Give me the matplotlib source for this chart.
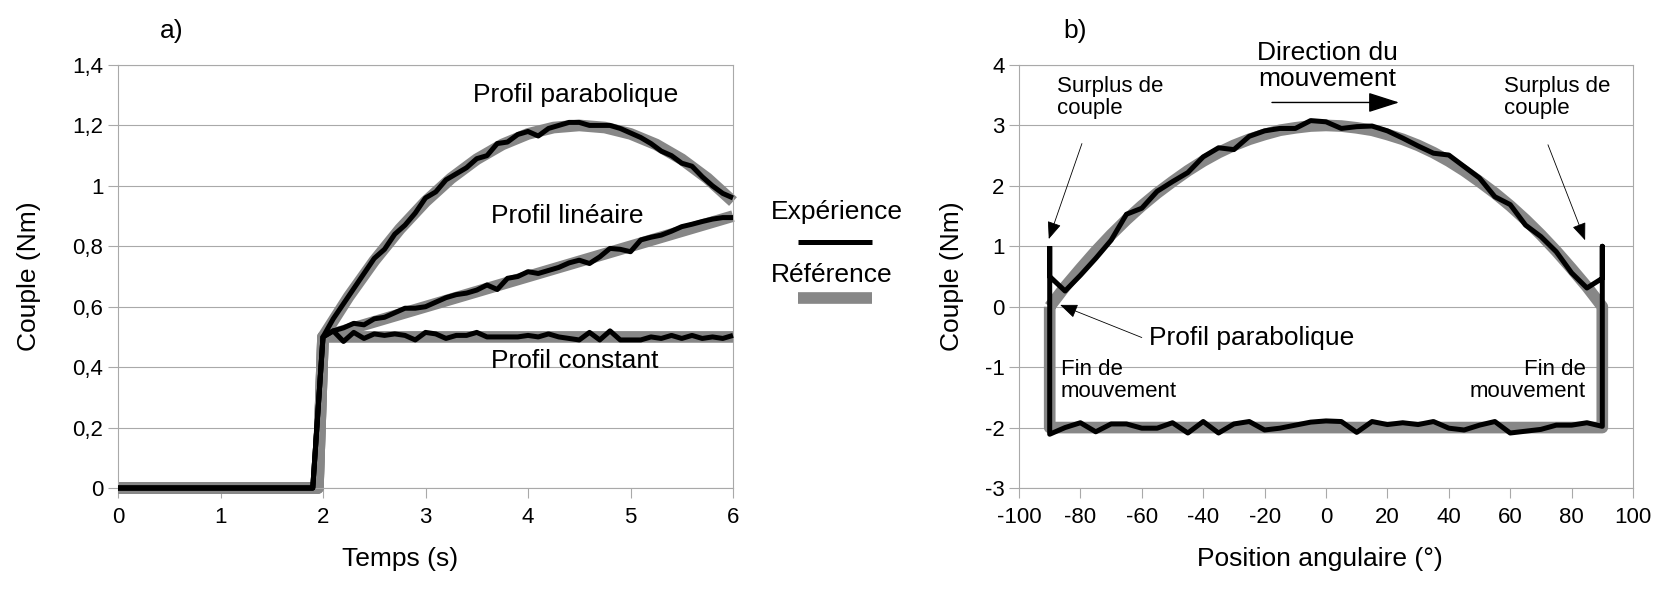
import matplotlib
matplotlib.use("Agg")
import matplotlib.pyplot as plt
from matplotlib.lines import Line2D
from matplotlib.ticker import FuncFormatter

plt.rcParams['font.family'] = ['Liberation Sans', 'DejaVu Sans']
plt.rcParams['axes.unicode_minus'] = False

# ---------------- Data: panel a) ----------------
t_ref_start = [0.0, 1.95]
t_ref = [2.0, 2.25, 2.5, 2.75, 3.0, 3.25, 3.5, 3.75, 4.0, 4.25, 4.5,
         4.75, 5.0, 5.25, 5.5, 5.75, 6.0]
ref_parabolique = [0.50, 0.633, 0.752, 0.857, 0.948, 1.025, 1.088, 1.137, 1.172, 1.193, 1.20,
                   1.193, 1.172, 1.137, 1.088, 1.025, 0.948]
ref_lineaire = [0.50, 0.525, 0.55, 0.575, 0.60, 0.625, 0.65, 0.675, 0.70, 0.725, 0.75,
                0.775, 0.80, 0.825, 0.85, 0.875, 0.90]
ref_constant = [0.50] * 17

t_exp_start = [0.0, 1.9]
t_exp = [2.0, 2.1, 2.2, 2.3, 2.4, 2.5, 2.6, 2.7, 2.8, 2.9, 3.0, 3.1, 3.2, 3.3, 3.4, 3.5,
         3.6, 3.7, 3.8, 3.9, 4.0, 4.1, 4.2, 4.3, 4.4, 4.5, 4.6, 4.7, 4.8, 4.9, 5.0, 5.1,
         5.2, 5.3, 5.4, 5.5, 5.6, 5.7, 5.8, 5.9, 6.0]
exp_parabolique = [0.50, 0.56, 0.61, 0.66, 0.71, 0.76, 0.79, 0.84, 0.87, 0.91, 0.96, 0.98,
                   1.02, 1.04, 1.06, 1.09, 1.10, 1.14, 1.145, 1.17, 1.18, 1.165, 1.19, 1.20,
                   1.21, 1.21, 1.20, 1.20, 1.20, 1.19, 1.175, 1.16, 1.14, 1.115, 1.10, 1.075,
                   1.065, 1.03, 1.00, 0.975, 0.96]
exp_lineaire = [0.50, 0.52, 0.53, 0.545, 0.54, 0.56, 0.565, 0.58, 0.595, 0.595, 0.60, 0.615,
                0.63, 0.64, 0.645, 0.655, 0.672, 0.657, 0.694, 0.70, 0.716, 0.71, 0.72, 0.73,
                0.745, 0.754, 0.743, 0.765, 0.793, 0.79, 0.782, 0.821, 0.83, 0.837, 0.85, 0.865,
                0.873, 0.882, 0.89, 0.895, 0.895]
exp_constant = [0.50, 0.52, 0.485, 0.515, 0.495, 0.51, 0.505, 0.51, 0.505, 0.49, 0.515, 0.51,
                0.495, 0.505, 0.505, 0.515, 0.50, 0.50, 0.50, 0.50, 0.505, 0.50, 0.51, 0.50,
                0.495, 0.49, 0.515, 0.49, 0.52, 0.49, 0.49, 0.49, 0.50, 0.495, 0.505, 0.495,
                0.505, 0.495, 0.50, 0.495, 0.505]

a_xticks = [0, 1, 2, 3, 4, 5, 6]
a_yticks = [0, 0.2, 0.4, 0.6, 0.8, 1.0, 1.2, 1.4]

# ---------------- Data: panel b) ----------------
ang_ref = [-90, -85, -80, -75, -70, -65, -60, -55, -50, -45, -40, -35, -30, -25, -20, -15,
           -10, -5, 0, 5, 10, 15, 20, 25, 30, 35, 40, 45, 50, 55, 60, 65, 70, 75, 80, 85, 90]
ref_aller = [0.0, 0.33, 0.63, 0.92, 1.19, 1.44, 1.67, 1.88, 2.07, 2.25, 2.41, 2.55, 2.67,
             2.77, 2.85, 2.92, 2.96, 2.99, 3.0, 2.99, 2.96, 2.92, 2.85, 2.77, 2.67, 2.55,
             2.41, 2.25, 2.07, 1.88, 1.67, 1.44, 1.19, 0.92, 0.63, 0.33, 0.0]
ang_ref_retour = [90, 90, -90, -90]
ref_retour = [0.0, -2.0, -2.0, 0.0]

ang_exp_aller = [-90, -90, -85, -80, -75, -70, -65, -60, -55, -50, -45, -40, -35, -30, -25,
                 -20, -15, -10, -5, 0, 5, 10, 15, 20, 25, 30, 35, 40, 45, 50, 55, 60, 65, 70,
                 75, 80, 85, 90, 90]
exp_aller = [1.0, 0.5, 0.26, 0.52, 0.80, 1.10, 1.53, 1.63, 1.91, 2.07, 2.22, 2.48, 2.63,
             2.60, 2.82, 2.91, 2.95, 2.95, 3.08, 3.06, 2.95, 2.98, 2.99, 2.91, 2.79, 2.66,
             2.54, 2.51, 2.32, 2.13, 1.82, 1.69, 1.35, 1.16, 0.91, 0.56, 0.31, 0.47, 1.0]
ang_exp_retour = [-90, -85, -80, -75, -70, -65, -60, -55, -50, -45, -40, -35, -30, -25, -20,
                  -15, -10, -5, 0, 5, 10, 15, 20, 25, 30, 35, 40, 45, 50, 55, 60, 65, 70, 75,
                  80, 85, 90]
exp_retour = [-2.11, -2.0, -1.92, -2.07, -1.94, -1.94, -2.01, -2.01, -1.92, -2.09, -1.90,
              -2.09, -1.94, -1.90, -2.04, -2.01, -1.96, -1.91, -1.89, -1.90, -2.08, -1.90,
              -1.95, -1.92, -1.95, -1.90, -2.01, -2.04, -1.96, -1.90, -2.09, -2.06, -2.03,
              -1.96, -1.96, -1.92, -1.98]

b_xticks = [-100, -80, -60, -40, -20, 0, 20, 40, 60, 80, 100]
b_yticks = [-3, -2, -1, 0, 1, 2, 3, 4]

# ---------------- Styles ----------------
W, H = 1671, 595
DPI = 100
GRAY_REF = '#878787'
GRID = '#a9a9a9'
LW_REF = 8.4
LW_EXP = 3.6
TICK_FS = 16
LABEL_FS = 19
ANN_BIG = 19
ANN_SMALL = 16

fig = plt.figure(figsize=(W / DPI, H / DPI), dpi=DPI)
fig.patch.set_facecolor('white')

bottom = 1 - 488 / H
top = 1 - 65 / H
axA = fig.add_axes([118 / W, bottom, (733 - 118) / W, top - bottom])
axB = fig.add_axes([1019 / W, bottom, (1633 - 1019) / W, top - bottom])


def style_axes(ax):
    for sp in ax.spines.values():
        sp.set_color(GRID)
        sp.set_linewidth(0.8)
    ax.yaxis.grid(True, color=GRID, linewidth=0.8)
    ax.xaxis.grid(False)
    ax.set_axisbelow(True)
    ax.tick_params(axis='both', which='major', direction='out', length=7, width=0.8,
                   color=GRID, labelsize=TICK_FS, labelcolor='black')
    ax.tick_params(axis='x', pad=6.5)
    ax.tick_params(axis='y', pad=3.5)


# ---------------- Panel a) ----------------
style_axes(axA)
for ref in (ref_parabolique, ref_lineaire, ref_constant):
    axA.plot(t_ref_start + t_ref, [0.0, 0.0] + ref, color=GRAY_REF, lw=LW_REF,
             solid_capstyle='butt', clip_on=False, zorder=2)
for ex in (exp_parabolique, exp_lineaire, exp_constant):
    axA.plot(t_exp_start + t_exp, [0.0, 0.0] + ex, color='black', lw=LW_EXP,
             solid_capstyle='butt', clip_on=False, zorder=3)

axA.set_xlim(0, 6)
axA.set_ylim(0, 1.4)
axA.set_xticks(a_xticks)
axA.set_yticks(a_yticks)
axA.yaxis.set_major_formatter(FuncFormatter(lambda v, p: ('%g' % round(v, 1)).replace('.', ',')))
axA.set_xlabel('Temps (s)', fontsize=LABEL_FS)
axA.set_ylabel('Couple (Nm)', fontsize=LABEL_FS)
axA.xaxis.set_label_coords(0.459, -(559 - 488) / 423)
axA.yaxis.set_label_coords(-(118 - 29) / 615, 0.5)
axA.xaxis.label.set_va('center')
axA.yaxis.label.set_va('center')

axA.text(4.46, 1.30, 'Profil parabolique', fontsize=ANN_BIG, ha='center', va='center')
axA.text(4.38, 0.90, 'Profil linéaire', fontsize=ANN_BIG, ha='center', va='center')
axA.text(4.46, 0.42, 'Profil constant', fontsize=ANN_BIG, ha='center', va='center')

fig.text(172 / W, 1 - 31 / H, 'a)', fontsize=ANN_BIG, ha='center', va='center')
fig.text(1075 / W, 1 - 31 / H, 'b)', fontsize=ANN_BIG, ha='center', va='center')

# ---------------- Legend (middle) ----------------
fig.text(837 / W, 1 - 212 / H, 'Expérience', fontsize=ANN_BIG, ha='center', va='center')
fig.text(832 / W, 1 - 275 / H, 'Référence', fontsize=ANN_BIG, ha='center', va='center')
fig.add_artist(Line2D([798 / W, 872 / W], [1 - 242 / H, 1 - 242 / H], transform=fig.transFigure,
                      color='black', lw=LW_EXP, solid_capstyle='butt'))
fig.add_artist(Line2D([798 / W, 872 / W], [1 - 298 / H, 1 - 298 / H], transform=fig.transFigure,
                      color=GRAY_REF, lw=LW_REF, solid_capstyle='butt'))

# ---------------- Panel b) ----------------
style_axes(axB)
axB.plot(ang_ref + ang_ref_retour, ref_aller + ref_retour, color=GRAY_REF, lw=LW_REF,
         solid_capstyle='butt', clip_on=False, zorder=2)
exp_x = ang_exp_aller + ang_exp_retour[::-1] + [ang_exp_aller[0]]
exp_y = exp_aller + exp_retour[::-1] + [exp_aller[0]]
axB.plot(exp_x, exp_y, color='black', lw=LW_EXP, solid_capstyle='butt', clip_on=False, zorder=3)

axB.set_xlim(-100, 100)
axB.set_ylim(-3, 4)
axB.set_xticks(b_xticks)
axB.set_yticks(b_yticks)
axB.set_xlabel('Position angulaire (°)', fontsize=LABEL_FS)
axB.set_ylabel('Couple (Nm)', fontsize=LABEL_FS)
axB.xaxis.set_label_coords(0.49, -(559 - 488) / 423)
axB.yaxis.set_label_coords(-(1019 - 952) / 614, 0.5)
axB.xaxis.label.set_va('center')
axB.yaxis.label.set_va('center')

thin = dict(arrowstyle='-|>,head_length=0.9,head_width=0.36', color='black', lw=0.6,
            shrinkA=0, shrinkB=0, mutation_scale=12)
axB.text(0.5, 3.98, 'Direction du\nmouvement', fontsize=ANN_BIG, ha='center', va='center',
         linespacing=1.1)
axB.annotate('', xy=(23.8, 3.38), xytext=(-17.6, 3.38),
             arrowprops=dict(arrowstyle='-|>,head_length=0.97,head_width=0.31', color='black',
                             lw=1.0, shrinkA=0, shrinkB=0, mutation_scale=20))

axB.text(-87.6, 3.46, 'Surplus de\ncouple', fontsize=ANN_SMALL, ha='left', va='center',
         linespacing=1.1)
axB.text(58.0, 3.46, 'Surplus de\ncouple', fontsize=ANN_SMALL, ha='left', va='center',
         linespacing=1.1)
axB.annotate('', xy=(-90.3, 1.12), xytext=(-79.5, 2.70), arrowprops=thin)
axB.annotate('', xy=(84.4, 1.10), xytext=(72.3, 2.68), arrowprops=thin)

axB.text(-57.7, -0.51, 'Profil parabolique', fontsize=ANN_BIG, ha='left', va='center')
axB.annotate('', xy=(-86.6, 0.03), xytext=(-60.0, -0.51), arrowprops=thin)

axB.text(-86.3, -1.22, 'Fin de\nmouvement', fontsize=ANN_SMALL, ha='left', va='center',
         linespacing=1.1)
axB.text(84.5, -1.22, 'Fin de\nmouvement', fontsize=ANN_SMALL, ha='right', va='center',
         multialignment='right', linespacing=1.1)

fig.savefig('out.png', dpi=DPI, facecolor='white')
